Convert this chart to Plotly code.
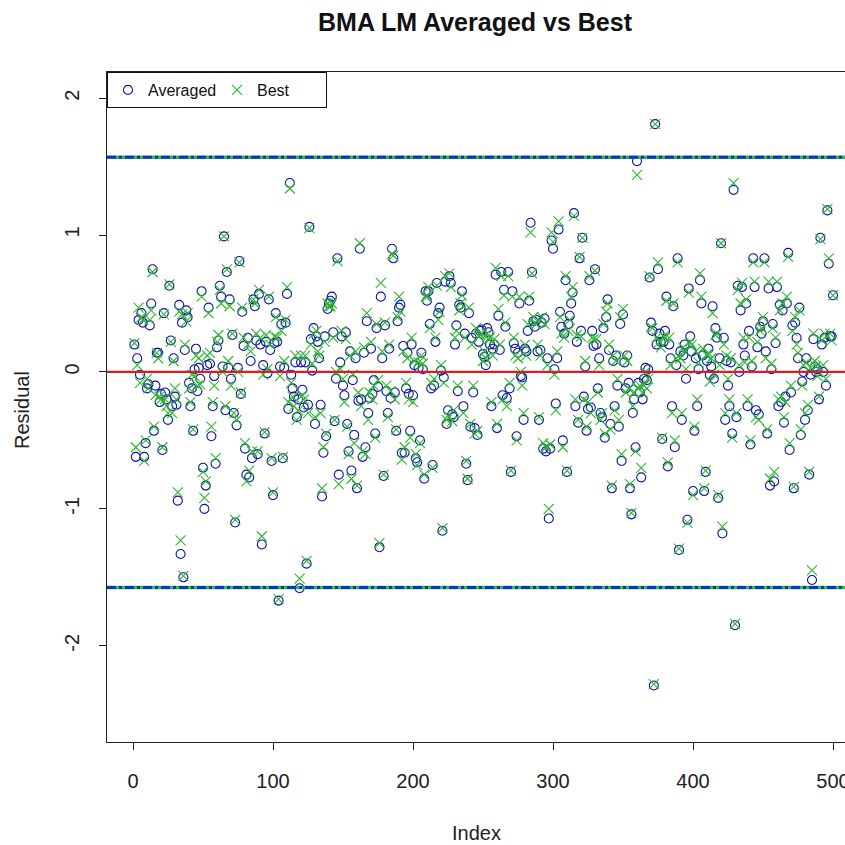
import plotly.graph_objects as go

averaged = [
    0.20, -0.62, 0.10, 0.38, -0.02, 0.43, 0.36, -0.62, -0.52, -0.12,
    -0.09, 0.34, 0.50, 0.75, -0.43, -0.10, 0.14, 0.14, -0.22, -0.16,
    -0.57, 0.43, -0.15, -0.20, -0.35, 0.63, 0.23, -0.25, 0.10, -0.18,
    -0.24, -0.94, 0.49, -1.33, 0.36, -1.50, 0.16, 0.45, 0.40, -0.08,
    -0.25, -0.12, -0.43, 0.02, 0.17, -0.14, 0.03, -0.05, 0.59, -0.70,
    -1.00, -0.83, 0.05, 0.47, 0.06, -0.47, -0.25, -0.03, -0.67, 0.18,
    0.23, 0.63, 0.55, 0.04, 0.99, -0.28, 0.73, 0.03, 0.53, -0.05,
    0.27, -0.30, -1.10, -0.39, 0.03, 0.81, -0.16, 0.44, 0.19, -0.56,
    -0.75, 0.25, -0.77, 0.08, -0.63, 0.53, 0.48, 0.23, -0.60, 0.57,
    0.20, -1.26, 0.05, -0.45, 0.22, -0.01, 0.53, 0.16, -0.65, -0.90,
    0.21, 0.43, 0.22, -1.67, 0.04, 0.35, -0.63, 0.03, 0.36, 0.57,
    -0.27, 1.38, -0.02, -0.12, -0.18, 0.07, -0.33, -0.20, -1.58, 0.07,
    -0.13, -0.26, 0.07, -1.40, -0.24, 1.06, 0.24, 0.01, 0.32, -0.38,
    0.26, 0.22, 0.10, -0.24, -0.91, -0.59, 0.26, -0.47, 0.46, 0.50,
    0.52, 0.55, 0.29, -0.36, -0.05, 0.83, -0.75, 0.07, 0.26, -0.10,
    -0.17, 0.29, -0.38, -0.58, 0.15, -0.72, -0.06, -0.46, 0.10, -0.85,
    -0.21, 0.90, -0.20, -0.62, 0.14, -0.55, 0.37, -0.30, -0.19, 0.17,
    -0.16, -0.06, -0.45, 0.32, -0.11, -1.28, 0.55, 0.10, -0.76, 0.34,
    -0.14, -0.30, 0.17, -0.19, 0.90, 0.83, -0.15, -0.43, 0.37, 0.47,
    0.49, -0.59, 0.19, -0.59, -0.12, 0.14, -0.16, -0.43, 0.20, -0.17,
    0.05, -0.63, -0.66, 0.03, -0.50, 0.14, 0.02, -0.78, 0.59, 0.52,
    0.59, 0.35, -0.12, -0.68, -0.10, 0.22, 0.65, 0.43, 0.47, 0.01,
    -1.16, -0.04, 0.66, -0.38, -0.28, 0.70, 0.65, -0.31, -0.33, 0.20,
    0.34, -0.14, 0.49, 0.47, 0.59, -0.25, 0.28, -0.67, -0.79, 0.43,
    -0.40, 0.25, -0.15, -0.41, 0.28, -0.46, 0.22, 0.30, 0.31, 0.13,
    0.11, 0.05, 0.32, 0.29, 0.20, -0.25, 0.17, 0.20, 0.71, -0.41,
    0.41, 0.16, 0.73, -0.17, 0.60, 0.33, -0.19, 0.73, -0.12, -0.73,
    0.59, 0.21, 0.17, -0.47, 0.14, 0.50, -0.03, -0.04, -0.35, 0.17,
    0.15, 0.30, 0.52, 1.09, 0.73, 0.37, 0.33, 0.38, 0.15, -0.35,
    0.16, 0.36, -0.56, 0.39, -0.58, 0.10, -1.07, -0.56, 0.96, 0.90,
    0.02, -0.23, 0.10, 1.04, 0.44, 0.33, -0.50, 0.28, 0.67, -0.73,
    0.35, 0.41, 0.50, 0.58, 1.16, -0.25, 0.22, -0.37, 0.83, 0.30,
    0.98, -0.18, 0.04, -0.43, -0.27, 0.67, -0.26, 0.30, 0.19, 0.75,
    0.20, -0.12, 0.10, -0.30, -0.33, 0.32, -0.48, 0.40, 0.53, 0.16,
    -0.38, -0.85, 0.08, -0.25, 0.12, -0.10, -0.40, 0.35, -0.65, 0.42,
    0.07, -0.12, 0.12, -0.08, -0.85, -1.04, -0.30, -0.20, -0.55, 1.54,
    -0.08, -0.15, -0.77, -0.20, -0.05, 0.03, -0.06, 0.02, 0.69, 0.36,
    0.30, -2.29, 1.81, 0.20, 0.75, 0.28, 0.22, -0.49, 0.22, 0.30,
    0.55, -0.69, 0.20, 0.10, -0.25, 0.48, -0.55, 0.05, 0.83, -1.30,
    0.15, -0.35, 0.12, 0.20, -0.05, -1.08, 0.61, 0.26, 0.15, -0.87,
    -0.43, 0.10, -0.25, 0.02, 0.67, 0.50, 0.12, -0.87, -0.73, 0.08,
    0.17, -0.02, 0.04, 0.48, -0.05, 0.32, 0.25, -0.92, 0.10, 0.94,
    -1.18, 0.25, -0.35, 0.08, -0.10, -0.25, 0.07, -0.45, 1.33, -1.85,
    -0.33, 0.63, 0.00, 0.45, 0.62, 0.20, 0.12, 0.50, -0.25, 0.30,
    -0.53, 0.04, 0.83, 0.62, -0.28, 0.18, -0.31, 0.33, 0.28, 0.37,
    0.83, 0.15, -0.45, 0.61, -0.83, 0.02, 0.35, -0.80, 0.21, 0.62,
    -0.25, 0.49, -0.22, 0.45, -0.37, -0.18, 0.50, 0.87, -0.57, -0.15,
    0.34, -0.85, 0.36, 0.25, 0.10, 0.47, -0.46, -0.07, 0.00, -0.35,
    0.10, -0.28, -0.75, -0.02, -1.52, 0.24, 0.04, 0.00, 0.02, -0.20,
    0.98, 0.20, 0.00, 0.25, -0.10, 1.18, 0.79, 0.26, 0.26, 0.56,
]

best = [
    0.21, -0.55, 0.05, 0.47, -0.08, 0.40, 0.38, -0.65, -0.50, -0.05,
    -0.12, 0.38, 0.45, 0.73, -0.40, -0.17, 0.14, 0.10, -0.18, -0.20,
    -0.55, 0.42, -0.20, -0.25, -0.30, 0.64, 0.22, -0.30, 0.08, -0.12,
    -0.20, -0.88, 0.44, -1.23, 0.42, -1.49, 0.20, 0.37, 0.43, -0.12,
    -0.22, -0.02, -0.42, -0.03, 0.12, -0.10, 0.10, -0.09, 0.55, -0.73,
    -0.92, -0.80, 0.12, 0.43, 0.14, -0.40, -0.22, -0.10, -0.63, 0.22,
    0.27, 0.60, 0.50, 0.00, 0.99, -0.25, 0.75, 0.08, 0.48, -0.10,
    0.28, -0.30, -1.08, -0.35, 0.00, 0.80, -0.15, 0.47, 0.25, -0.52,
    -0.80, 0.20, -0.72, 0.15, -0.58, 0.53, 0.50, 0.28, -0.58, 0.60,
    0.25, -1.20, -0.02, -0.44, 0.27, 0.02, 0.55, 0.20, -0.63, -0.88,
    0.26, 0.40, 0.25, -1.66, -0.03, 0.30, -0.62, 0.08, 0.38, 0.62,
    -0.22, 1.34, -0.08, -0.18, -0.25, 0.12, -0.35, -0.28, -1.51, 0.12,
    -0.17, -0.20, 0.12, -1.38, -0.30, 1.05, 0.20, 0.06, 0.28, -0.33,
    0.30, 0.15, 0.12, -0.30, -0.85, -0.55, 0.22, -0.45, 0.50, 0.48,
    0.48, 0.50, 0.25, -0.35, 0.00, 0.81, -0.82, 0.02, 0.30, -0.05,
    -0.22, 0.24, -0.40, -0.60, 0.12, -0.78, -0.02, -0.52, 0.15, -0.83,
    -0.15, 0.94, -0.25, -0.58, 0.18, -0.60, 0.43, -0.35, -0.15, 0.22,
    -0.20, -0.10, -0.48, 0.35, -0.06, -1.25, 0.65, 0.15, -0.75, 0.36,
    -0.10, -0.33, 0.20, -0.14, 0.86, 0.85, -0.20, -0.42, 0.40, 0.55,
    0.44, -0.64, 0.15, -0.55, -0.08, 0.10, -0.20, -0.48, 0.25, -0.22,
    0.08, -0.60, -0.68, 0.07, -0.52, 0.12, 0.06, -0.75, 0.55, 0.55,
    0.62, 0.32, -0.08, -0.70, -0.05, 0.25, 0.63, 0.38, 0.44, 0.05,
    -1.14, -0.08, 0.70, -0.35, -0.32, 0.72, 0.62, -0.36, -0.28, 0.25,
    0.30, -0.10, 0.45, 0.50, 0.56, -0.30, 0.25, -0.65, -0.78, 0.47,
    -0.38, 0.20, -0.10, -0.45, 0.32, -0.43, 0.26, 0.27, 0.28, 0.08,
    0.15, 0.10, 0.28, 0.24, 0.25, -0.22, 0.12, 0.24, 0.76, -0.38,
    0.46, 0.20, 0.70, -0.20, 0.56, 0.36, -0.25, 0.70, -0.08, -0.72,
    0.55, 0.25, 0.12, -0.50, 0.10, 0.55, 0.00, -0.10, -0.30, 0.20,
    0.12, 0.35, 0.55, 1.02, 0.72, 0.40, 0.36, 0.35, 0.20, -0.33,
    0.12, 0.40, -0.52, 0.35, -0.55, 0.05, -1.00, -0.53, 1.02, 0.95,
    -0.02, -0.28, 0.15, 1.10, 0.40, 0.28, -0.55, 0.25, 0.70, -0.72,
    0.30, 0.38, 0.55, 0.62, 1.14, -0.20, 0.27, -0.35, 0.84, 0.26,
    0.98, -0.20, 0.08, -0.40, -0.22, 0.70, -0.30, 0.25, 0.24, 0.74,
    0.24, -0.15, 0.05, -0.35, -0.30, 0.35, -0.45, 0.44, 0.50, 0.20,
    -0.42, -0.83, 0.12, -0.28, 0.08, -0.05, -0.35, 0.40, -0.60, 0.46,
    0.12, -0.15, 0.08, -0.12, -0.82, -1.03, -0.25, -0.15, -0.58, 1.44,
    -0.12, -0.10, -0.70, -0.15, -0.10, 0.00, -0.12, -0.05, 0.70, 0.33,
    0.32, -2.28, 1.81, 0.25, 0.80, 0.22, 0.18, -0.48, 0.26, 0.25,
    0.52, -0.66, 0.25, 0.05, -0.30, 0.50, -0.50, 0.10, 0.80, -1.29,
    0.10, -0.30, 0.18, 0.15, 0.02, -1.10, 0.58, 0.22, 0.20, -0.90,
    -0.40, 0.15, -0.20, 0.07, 0.72, 0.55, 0.17, -0.85, -0.72, 0.12,
    0.14, -0.07, 0.10, 0.43, -0.02, 0.27, 0.28, -0.90, 0.05, 0.94,
    -1.13, 0.20, -0.30, 0.12, -0.05, -0.20, 0.10, -0.48, 1.38, -1.84,
    -0.30, 0.60, 0.05, 0.50, 0.65, 0.25, 0.07, 0.53, -0.20, 0.25,
    -0.50, 0.08, 0.80, 0.66, -0.33, 0.22, -0.35, 0.30, 0.32, 0.40,
    0.80, 0.10, -0.42, 0.66, -0.78, 0.06, 0.32, -0.73, 0.25, 0.66,
    -0.20, 0.45, -0.18, 0.50, -0.33, -0.22, 0.55, 0.84, -0.52, -0.10,
    0.30, -0.84, 0.40, 0.20, 0.14, 0.45, -0.42, -0.10, 0.05, -0.30,
    0.07, -0.24, -0.73, 0.03, -1.45, 0.28, 0.08, 0.04, -0.03, -0.18,
    0.97, 0.23, 0.05, 0.28, -0.05, 1.19, 0.83, 0.28, 0.23, 0.56,
]

index = list(range(1, len(averaged) + 1))
upper_limit = 1.568
lower_limit = -1.575
zero_line = 0.0
x_ticks = [0, 100, 200, 300, 400, 500]
x_tick_labels = ["0", "100", "200", "300", "400", "500"]
y_ticks = [-2, -1, 0, 1, 2]
y_tick_labels = ["-2", "-1", "0", "1", "2"]

BLUE = "#1010b0"
GREEN = "#2db82d"
FONT = "Liberation Sans, Arial, sans-serif"

fig = go.Figure()
fig.add_trace(go.Scatter(
    x=index, y=averaged, mode="markers", name="Averaged",
    marker=dict(symbol="circle-open", size=9, color=BLUE, line=dict(width=1.1, color=BLUE)),
))
fig.add_trace(go.Scatter(
    x=index, y=best, mode="markers", name="Best",
    marker=dict(symbol="x-thin-open", size=10, color=GREEN, line=dict(width=1.1, color=GREEN)),
))

# reference lines
for yv in (upper_limit, lower_limit):
    fig.add_shape(type="line", xref="paper", x0=0, x1=1, yref="y", y0=yv, y1=yv,
                  line=dict(color="#2fc02f", width=3.5), layer="above")
    fig.add_shape(type="line", xref="paper", x0=0, x1=1, yref="y", y0=yv, y1=yv,
                  line=dict(color="#1030d0", width=3, dash="dashdot"), layer="above")
fig.add_shape(type="line", xref="paper", x0=0, x1=1, yref="y", y0=zero_line, y1=zero_line,
              line=dict(color="#d42020", width=2.2), layer="above")

fig.update_layout(
    width=845, height=845,
    margin=dict(l=107, r=0, t=72, b=103, autoexpand=False),
    paper_bgcolor="white", plot_bgcolor="white",
    font=dict(family=FONT, color="#1a1a1a"),
    title=dict(text="<b>BMA LM Averaged vs Best</b>", x=475 / 845, xanchor="center",
               y=1 - 22 / 845, yanchor="middle", font=dict(size=25, color="#111")),
    showlegend=True,
    legend=dict(x=0, y=1, xanchor="left", yanchor="top", orientation="h",
                bordercolor="#111", borderwidth=1, bgcolor="white",
                font=dict(size=16, color="#111"), itemwidth=30,
                entrywidth=64, entrywidthmode="pixels"),
    xaxis=dict(range=[-18.57, 508.57], tickvals=x_ticks, ticktext=x_tick_labels,
               ticks="outside", ticklen=7, ticklabeloverflow="allow", automargin=False,
               tickcolor="#222", showline=True, linecolor="#222", linewidth=1, mirror=True,
               showgrid=False, zeroline=False, tickfont=dict(size=20, color="#222"),
               ticklabelstandoff=14),
    yaxis=dict(range=[-2.703, 2.191], tickvals=y_ticks, ticktext=y_tick_labels,
               ticks="outside", ticklen=7, automargin=False,
               tickcolor="#222", showline=True, linecolor="#222", linewidth=1, mirror=False,
               showgrid=False, zeroline=False, tickfont=dict(size=20, color="#222"),
               tickangle=-90, ticklabelstandoff=12),
    annotations=[
        dict(text="Index", xref="paper", yref="paper", x=(476 - 107) / 738, y=(742 - 833) / 670,
             xanchor="center", yanchor="middle", showarrow=False, font=dict(size=20, color="#222")),
        dict(text="Residual", xref="paper", yref="paper", x=(22 - 107) / 738, y=(742 - 410) / 670,
             xanchor="center", yanchor="middle", textangle=-90, showarrow=False,
             font=dict(size=20, color="#222")),
    ],
)

fig.write_html("out.html", config={"displayModeBar": False})
